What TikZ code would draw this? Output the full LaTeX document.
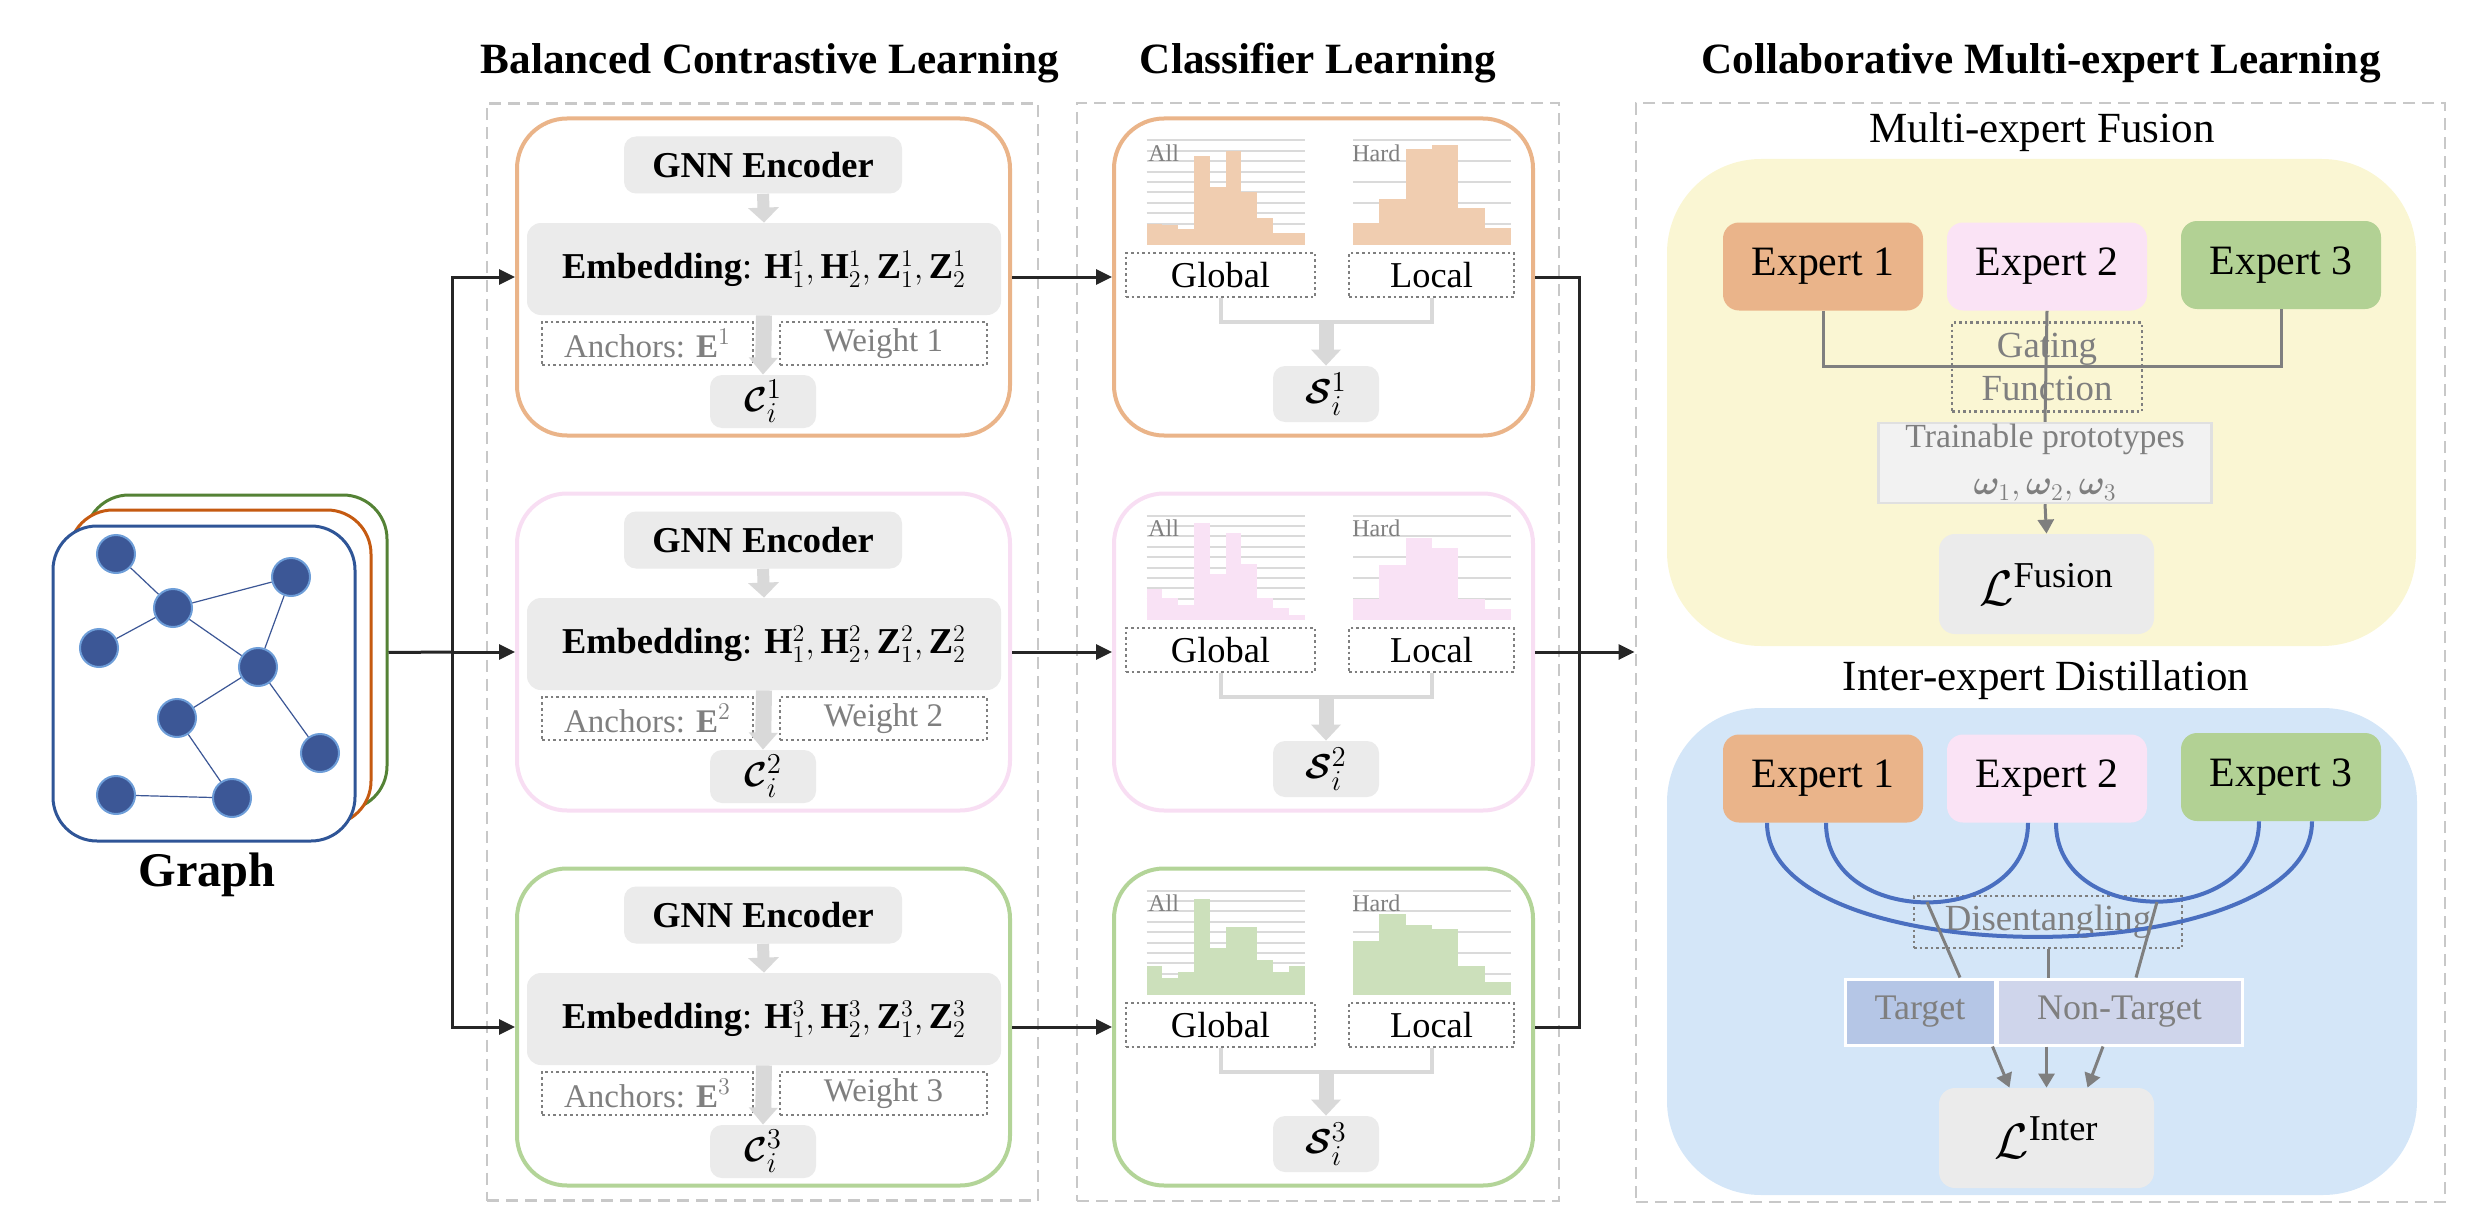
\documentclass[tikz,border=0pt]{standalone}
\usepackage{amsmath,bm}
\usepackage{fontspec}
\setmainfont{Liberation Serif}
\usetikzlibrary{arrows.meta,calc,positioning}

\definecolor{inkblack}{HTML}{262626}
\definecolor{txtgray}{HTML}{7F7F7F}
\definecolor{dashgray}{HTML}{C8C8C8}
\definecolor{gridgray}{HTML}{DADADA}
\definecolor{boxgray}{HTML}{EBEBEB}
\definecolor{arrgray}{HTML}{D9D9D9}
\definecolor{orline}{HTML}{EAB489}
\definecolor{pkline}{HTML}{F8DEF3}
\definecolor{grline}{HTML}{B3D498}
\definecolor{orbar}{HTML}{F0CDB0}
\definecolor{pkbar}{HTML}{F9E2F5}
\definecolor{grbar}{HTML}{CCE0BB}
\definecolor{exp1}{HTML}{EAB48A}
\definecolor{exp2}{HTML}{FAE3F5}
\definecolor{exp3}{HTML}{B2D194}
\definecolor{fusbg}{HTML}{FAF6D3}
\definecolor{dstbg}{HTML}{D4E6F8}
\definecolor{tgfill}{HTML}{B5C6E6}
\definecolor{ntfill}{HTML}{CFD5EB}
\definecolor{tpfill}{HTML}{F2F2F2}
\definecolor{tpline}{HTML}{E0E0E0}
\definecolor{arcblue}{HTML}{4A6FC0}
\definecolor{gblue}{HTML}{2F5597}
\definecolor{gorange}{HTML}{C55A11}
\definecolor{ggreen}{HTML}{548235}
\definecolor{dotblue}{HTML}{3C5796}
\definecolor{ringblue}{HTML}{6D9DD8}

\tikzset{
  headtxt/.style={font=\fontsize{21.6}{26}\selectfont\bfseries},
  subhead/.style={font=\fontsize{21.5}{26}\selectfont},
  panel/.style={draw=dashgray,line width=1.4pt,dash pattern=on 6pt off 3.5pt,inner sep=0pt},
  rowbox/.style={draw=#1,line width=2pt,rounded corners=25pt,fill=white,inner sep=0pt,minimum height=158.5pt},
  graybox/.style={fill=boxgray,rounded corners=6pt,inner sep=0pt},
  dotbox/.style={draw=txtgray,line width=1.3pt,dash pattern=on 1.3pt off 1.5pt,inner sep=0pt},
  graphbox/.style={draw=#1,line width=1.5pt,fill=white,rounded corners=22pt,minimum width=151pt,minimum height=157.5pt},
  gnode/.style={circle,fill=dotblue,draw=ringblue,line width=1pt,minimum size=19pt,inner sep=0pt},
  gedge/.style={draw=dotblue,line width=0.6pt},
  gridline/.style={draw=gridgray,line width=1pt},
  flow/.style={draw=inkblack,line width=1.5pt},
  flowarrow/.style={flow,-{Triangle[length=8pt,width=7.5pt]}},
  softline/.style={draw=arrgray,line width=2pt},
  gline/.style={draw=txtgray,line width=1.5pt},
  garrow/.style={gline,-{Triangle[length=7pt,width=8pt]}},
  arcline/.style={draw=arcblue,line width=2pt},
  expert/.style={fill=#1,rounded corners=8pt,minimum width=100pt,minimum height=44pt,inner sep=0pt,font=\fontsize{20.9}{25}\selectfont},
  splitbox/.style={draw=white,line width=1.5pt,minimum height=33pt,inner sep=0pt,text=txtgray,font=\fontsize{18}{22}\selectfont}
}

\begin{document}
\begin{tikzpicture}[x=0.5pt,y=-0.5pt]
  \useasboundingbox (0,0) rectangle (2486,1220);

  % panels and headings
  \node[panel,minimum width=275.5pt,minimum height=548.5pt] (bclpanel) at (762.5,652) {};
  \node[panel,minimum width=241pt,minimum height=549pt] (clspanel) at (1318,652) {};
  \node[panel,minimum width=404.5pt,minimum height=549.5pt] (cmlpanel) at (2040.5,652.5) {};
  \node[headtxt] (bcltitle) at (770,63) {Balanced Contrastive Learning};
  \node[headtxt] (clstitle) at (1318,63) {Classifier Learning};
  \node[headtxt] (cmltitle) at (2041,63) {Collaborative Multi-expert Learning};

  % input graph
  \node[graphbox=ggreen] (gg) at (236,652.5) {};
  \node[graphbox=gorange] (go) at (220,667.5) {};
  \node[graphbox=gblue] (gb) at (204,683.5) {};
  \foreach \n/\x/\y in {v1/116/554,v2/173/608,v3/291/577,v4/99/648,v5/258/667,
                        v6/177/718,v7/320/753,v8/116/795,v9/232/798}
    \node[gnode] (\n) at (\x,\y) {};
  \foreach \a/\b in {v1/v2,v2/v4,v2/v3,v2/v5,v3/v5,v5/v6,v5/v7,v6/v9,v8/v9}
    \draw[gedge] (\a) -- (\b);
  \node[font=\fontsize{24.2}{29}\selectfont\bfseries] (glabel) at (207,875) {Graph};

  % the three expert rows
  \foreach \rw/\yc/\col/\barc/\allh/\hardh in {
      1/277/orline/orbar/{21,20,16,88,57,93,52,27,12,12}/{22,45,95,99,37,17},
      2/652/pkline/pkbar/{31,22,15,97,46,87,56,22,12,5}/{21,55,82,72,21,11},
      3/1027/grline/grbar/{29,17,23,96,47,68,68,35,23,29}/{54,81,70,66,29,13}}{
    % contrastive part
    \node[rowbox=\col,minimum width=246.5pt] (bcl\rw) at (763.5,\yc) {};
    \node[graybox,minimum width=139pt,minimum height=28.5pt,
          font=\fontsize{18.2}{22}\selectfont\bfseries] (gnn\rw) at (763,\yc-112) {GNN Encoder};
    \node[graybox,rounded corners=7pt,minimum width=237pt,minimum height=46pt,
          font=\fontsize{18.2}{22}\selectfont] (emb\rw) at (764,\yc-8)
          {\textbf{Embedding}: $\mathbf{H}^{\rw}_1,\mathbf{H}^{\rw}_2,\mathbf{Z}^{\rw}_1,\mathbf{Z}^{\rw}_2$};
    \node[dotbox,minimum width=105.5pt,minimum height=21.5pt,text=txtgray,
          font=\fontsize{16.5}{20}\selectfont] (anc\rw) at (647.5,\yc+66.5) {Anchors: $\mathbf{E}^{\rw}$};
    \node[dotbox,minimum width=103.5pt,minimum height=21.5pt,text=txtgray,
          font=\fontsize{16.5}{20}\selectfont] (wgt\rw) at (883.5,\yc+66.5) {Weight \rw};
    \node[graybox,minimum width=53pt,minimum height=26.5pt,
          font=\fontsize{19}{22}\selectfont] (cc\rw) at (763,\yc+124.5) {$\bm{\mathcal{C}}_i^{\rw}$};
    \draw[draw=arrgray,line width=6pt,-{Triangle[length=7.5pt,width=15pt]}] (gnn\rw.south) -- (emb\rw.north);
    \draw[draw=arrgray,line width=8pt,-{Triangle[length=8.5pt,width=14pt]}] (emb\rw.south) -- (cc\rw.north);

    % classifier part
    \node[rowbox=\col,minimum width=209.5pt] (cls\rw) at (1323.5,\yc) {};
    \foreach \k in {0,...,8}
      \draw[gridline] (1146.5,\yc-136.5+\k*10.4) -- (1304.5,\yc-136.5+\k*10.4);
    \foreach \k in {0,2,...,8}
      \draw[gridline] (1353,\yc-136.5+\k*10.4) -- (1511,\yc-136.5+\k*10.4);
    \foreach \h [count=\i from 0] in \allh
      \fill[\barc] (1146.5+\i*15.8,\yc-32.5) rectangle ++(15.8,-\h);
    \foreach \h [count=\i from 0] in \hardh
      \fill[\barc] (1353+\i*26.33,\yc-32.5) rectangle ++(26.33,-\h);
    \node[anchor=west,inner sep=0pt,text=txtgray,font=\fontsize{12}{14}\selectfont] (all\rw) at (1148,\yc-124) {All};
    \node[anchor=west,inner sep=0pt,text=txtgray,font=\fontsize{12}{14}\selectfont] (hard\rw) at (1352,\yc-124) {Hard};
    \node[dotbox,minimum width=94.5pt,minimum height=22pt,font=\fontsize{18.2}{22}\selectfont] (glob\rw) at (1220.5,\yc-2) {Global};
    \node[dotbox,minimum width=82.5pt,minimum height=22pt,font=\fontsize{18.2}{22}\selectfont] (loc\rw) at (1431.5,\yc-2) {Local};
    \node[graybox,minimum width=53pt,minimum height=28pt,
          font=\fontsize{19}{22}\selectfont] (ss\rw) at (1326,\yc+117) {$\bm{\mathcal{S}}_i^{\rw}$};
    \coordinate (join\rw) at (1326,\yc+45);
    \draw[softline] (glob\rw.south) |- (join\rw) -| (loc\rw.south);
    \draw[draw=arrgray,line width=7.5pt,-{Triangle[length=8pt,width=14.5pt]}] (join\rw) -- (ss\rw.north);

    \draw[flowarrow] (bcl\rw.east) -- (cls\rw.west);
  }

  % graph to rows, rows to experts
  \coordinate (split) at (452,652);
  \draw[flow] (gg.east) -- (split);
  \draw[flowarrow] (split) -- (bcl2.west);
  \draw[flowarrow] (split) |- (bcl1.west);
  \draw[flowarrow] (split) |- (bcl3.west);
  \coordinate (mrg) at (1579,652);
  \draw[flow] (cls1.east) -| (mrg);
  \draw[flow] (cls3.east) -| (mrg);
  \draw[flowarrow] (cls2.east) -- (cls2.east -| cmlpanel.west);

  % multi-expert fusion
  \node[fill=fusbg,rounded corners=47pt,minimum width=374.5pt,minimum height=243.5pt,inner sep=0pt] (fusbox) at (2041.5,402.5) {};
  \node[subhead] (fustitle) at (2042,132) {Multi-expert Fusion};
  \node[expert=exp1] (fe1) at (1823,266.5) {Expert 1};
  \node[expert=exp2] (fe2) at (2047,266.5) {Expert 2};
  \node[expert=exp3] (fe3) at (2281,265) {Expert 3};
  \node[dotbox,minimum width=95pt,minimum height=44.5pt,align=center,text=txtgray,
        font=\fontsize{18.4}{21.5}\selectfont] (gate) at (2047,367) {Gating\\Function};
  \node[draw=tpline,fill=tpfill,line width=1.2pt,minimum width=166.5pt,minimum height=40pt,inner sep=0pt,
        align=center,text=txtgray,font=\fontsize{16.9}{23.5}\selectfont] (tp) at (2045,463)
        {Trainable prototypes\\$\bm{\omega}_1,\bm{\omega}_2,\bm{\omega}_3$};
  \node[graybox,rounded corners=8pt,minimum width=107.5pt,minimum height=50pt,
        font=\fontsize{26}{30}\selectfont] (lf) at (2046.5,584) {$\mathcal{L}^{\text{Fusion}}$};
  \draw[gline] (fe1.south) -- ++(0,56) -| (fe3.south);
  \draw[gline] (fe2.south) -- (tp.north);
  \draw[garrow] (tp.south) -- (lf.north);

  % inter-expert distillation
  \node[fill=dstbg,rounded corners=47pt,minimum width=375pt,minimum height=243.5pt,inner sep=0pt] (dstbox) at (2042,951.5) {};
  \node[subhead] (dsttitle) at (2046,680) {Inter-expert Distillation};
  \node[expert=exp1] (de1) at (1823,778.5) {Expert 1};
  \node[expert=exp2] (de2) at (2047,778.5) {Expert 2};
  \node[expert=exp3] (de3) at (2281,777) {Expert 3};
  \node[dotbox,minimum width=134pt,minimum height=26pt,text=txtgray,
        font=\fontsize{18.4}{22}\selectfont] (dis) at (2048,922) {Disentangling};
  \draw[arcline] ($(de1.south)+(-56,0)$) .. controls +(0,153) and +(0,153) .. ($(de3.south)+(31,0)$);
  \draw[arcline] ($(de1.south)+(3,0)$) .. controls +(0,106) and +(0,106) .. ($(de2.south)+(-19,0)$);
  \draw[arcline] ($(de2.south)+(9,0)$) .. controls +(0,106) and +(0,106) .. ($(de3.south)+(-22,0)$);
  \node[splitbox,fill=tgfill,minimum width=75pt] (tg) at (1920,1012) {Target};
  \node[splitbox,fill=ntfill,minimum width=122.5pt] (nt) at (2119.5,1012) {Non-Target};
  \node[graybox,rounded corners=8pt,minimum width=107.5pt,minimum height=50pt,
        font=\fontsize{26}{30}\selectfont] (li) at (2046.5,1138) {$\mathcal{L}^{\text{Inter}}$};
  \coordinate (b2) at (1927,902);
  \coordinate (b3) at (2157,902);
  \draw[gline] (b2) -- ($(tg.north)+(40,0)$);
  \draw[gline] (dis.south) -- (dis.south |- nt.north);
  \draw[gline] (b3) -- ($(nt.north)+(16.5,0)$);
  \draw[garrow] ($(tg.south east)+(-4,0)$) -- ($(li.north)+(-37,0)$);
  \draw[garrow] (li.north |- nt.south) -- (li.north);
  \draw[garrow] ($(nt.south)+(-16.5,0)$) -- ($(li.north)+(41,0)$);
\end{tikzpicture}
\end{document}
